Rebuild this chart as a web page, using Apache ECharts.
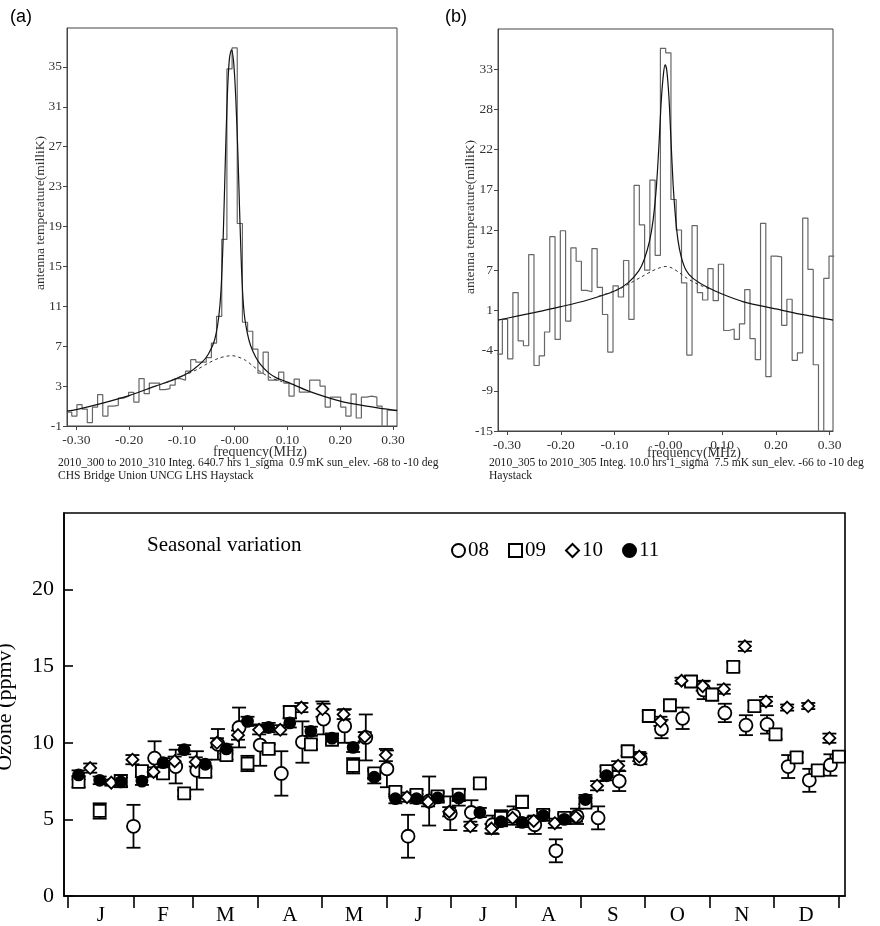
<!DOCTYPE html>
<html><head><meta charset="utf-8">
<script src="https://cdn.jsdelivr.net/npm/echarts@6/dist/echarts.min.js"></script>
<style>html,body{margin:0;padding:0;background:#fff}#c{width:880px;height:926px}</style>
</head><body><div id="c"></div>
<script>
// ---------- spectra (a) and (b): channel centre frequencies (MHz) ----------
const binFreq = [-0.3136,-0.3038,-0.294,-0.2842,-0.2744,-0.2646,-0.2548,-0.245,-0.2352,-0.2254,-0.2156,-0.2058,-0.196,-0.1862,-0.1764,-0.1666,-0.1568,-0.147,-0.1372,-0.1274,-0.1176,-0.1078,-0.098,-0.0882,-0.0784,-0.0686,-0.0588,-0.049,-0.0392,-0.0294,-0.0196,-0.0098,
  0,0.0098,0.0196,0.0294,0.0392,0.049,0.0588,0.0686,0.0784,0.0882,0.098,0.1078,0.1176,0.1274,0.1372,0.147,0.1568,0.1666,0.1764,0.1862,0.196,0.2058,0.2156,0.2254,0.2352,0.245,0.2548,0.2646,0.2744,0.2842,0.294,0.3038];
// antenna temperature (milliK) per channel
const histA = [0.4,0.0,1.14,0.7,-0.66,0.9,2.14,0.0,1.0,1.07,1.8,1.98,2.38,1.4,3.75,2.24,3.3,3.3,2.64,2.75,3.1,3.75,3.6,4.5,5.65,5.4,5.4,5.85,7.3,10.0,17.7,34.8,
  36.9,19.3,9.4,8.5,6.7,4.3,6.4,3.6,3.6,4.4,3.3,2.0,3.7,2.4,2.4,3.6,3.6,3.0,0.9,1.9,1.9,0.9,0.0,2.2,-0.2,1.9,2.0,1.9,1.0,-1.5,0.6,0.6];
const histB = [-4.67,0.0,-5.3,3.6,-2.9,-3.55,8.7,-6.2,-4.9,-1.7,11.1,-2.7,11.9,-0.24,9.6,7.8,3.9,3.7,9.5,4.3,0.65,-4.4,4.5,3.0,7.9,0.0,18.0,12.7,6.6,18.7,8.6,36.4,
  35.8,16.1,12.0,4.9,-4.8,12.6,3.6,2.6,6.8,2.5,7.4,-1.5,-1.3,-2.7,-0.6,4.0,-2.6,-5.4,12.9,-7.7,8.5,8.4,-0.8,2.7,-5.5,-4.5,13.6,6.7,-6.1,-17,5.5,8.5];
// fitted curves
const fitAx = [-0.3177,-0.30,-0.25,-0.20,-0.15,-0.12,-0.10,-0.08,-0.06,-0.05,-0.04,-0.035,-0.03,-0.026,-0.022,-0.018,-0.014,-0.010,-0.006,-0.002,0.002,0.006,0.010,0.014,0.018,0.024,0.03,0.04,0.05,0.065,0.08,0.10,0.14,0.20,0.25,0.30,0.3076];
const fitAy = [0.5,0.65,1.3,2.05,3.0,3.55,4.0,4.6,5.5,6.2,7.3,8.3,10.0,12.5,17.5,25,32,35.8,36.7,35.5,32,26.5,19.5,13.5,10.3,8.3,7.1,5.9,5.1,4.3,3.8,3.4,2.5,1.5,1.0,0.6,0.55];
const baseAx = [-0.13,-0.11,-0.09,-0.07,-0.05,-0.03,-0.015,-0.005,0.005,0.02,0.035,0.05,0.07,0.09,0.10];
const baseAy = [3.4,3.8,4.2,4.7,5.3,5.8,6.0,6.05,5.95,5.6,5.0,4.4,3.8,3.45,3.35];
const fitBx = [-0.3168,-0.30,-0.25,-0.20,-0.15,-0.10,-0.075,-0.055,-0.045,-0.035,-0.028,-0.022,-0.017,-0.013,-0.009,-0.006,-0.003,0.001,0.005,0.009,0.013,0.018,0.024,0.033,0.046,0.07,0.10,0.14,0.20,0.245,0.30,0.3063];
const fitBy = [-0.1,0.15,0.9,1.7,2.6,3.8,4.9,6.5,8.0,10.5,13.5,18,24,29.5,33,34.2,33.5,30,24,18,14,10.6,8.4,6.6,5.5,4.4,3.4,2.35,1.4,0.7,0.0,-0.1];
const baseBx = [-0.13,-0.11,-0.09,-0.07,-0.05,-0.03,-0.015,-0.006,0.005,0.02,0.035,0.05,0.065,0.08];
const baseBy = [3.1,3.55,4.1,4.9,5.7,6.5,6.95,7.1,6.95,6.3,5.5,4.9,4.4,4.0];
// tick values / labels
const freqTicks = [-0.3,-0.2,-0.1,0,0.1,0.2,0.3];
const freqTickLabels = ['-0.30','-0.20','-0.10','-0.00','0.10','0.20','0.30'];
const tempTicksA = [-1,3,7,11,15,19,23,27,31,35];
const tempLabelsA = ['-1','3','7','11','15','19','23','27','31','35'];
const tempTicksB = [-15,-9.6,-4.2,1.2,6.6,12,17.4,22.8,28.2,33.6];
const tempLabelsB = ['-15','-9','-4','1','7','12','17','22','28','33'];

// ---------- seasonal ozone (ppmv), day of year ----------
const monthBounds = [0,31,59,90,120,151,181,212,243,273,304,334,365];
const monthMids = [15.5,45,74.5,105,135.5,166,196.5,227.5,258,288.5,319,349.5];
const monthLabels = ['J','F','M','A','M','J','J','A','S','O','N','D'];
const ozoneTicks = [0,5,10,15,20];

const day08 = [31,41,51,61,71,81,91,101,111,121,131,141,151,161,171,181,191,201,211,221,231,241,251,261,271,281,291,301,311,321,331,341,351,361];
const o3_08 = [4.55,9.0,8.45,8.2,9.9,11.0,9.85,8.0,10.05,11.55,11.1,10.35,8.3,3.9,6.2,5.4,5.45,4.65,5.25,4.65,2.95,5.2,5.1,7.5,8.95,10.9,11.6,13.45,11.95,11.15,11.2,8.45,7.55,8.55];
const err08 = [1.4,1.1,1.1,1.25,1.0,1.3,1.35,1.45,1.35,1.0,1.1,1.5,1.2,1.4,1.6,1.1,0.8,0.6,0.6,0.6,0.75,0.5,0.75,0.65,0.35,0.6,0.7,0.6,0.6,0.65,0.6,0.75,0.75,0.7];

const day09 = [5,15,25,35,45,55,65,75,85,95,105,115,125,135,145,155,165,175,185,195,205,215,225,235,245,255,265,275,285,295,305,315,325,335,345,355,365];
const o3_09 = [7.45,5.55,7.5,8.15,8.0,6.7,8.1,9.2,8.65,9.6,12.0,9.9,10.2,8.5,8.0,6.8,6.6,6.5,6.6,7.35,5.1,6.15,5.3,5.1,6.1,8.15,9.45,11.75,12.45,14.0,13.15,14.95,12.4,10.55,9.05,8.2,9.1];
const err09 = [0.35,0.5,0.4,0.3,0.3,0.2,0.3,0.3,0.5,0.3,0.4,0.3,0.3,0.5,0.3,0.3,0.3,0.3,0.4,0.3,0.5,0.4,0.3,0.3,0.3,0.3,0.3,0.3,0.3,0.3,0.4,0.3,0.3,0.3,0.3,0.3,0.3];

const day10 = [10.5,20.5,30.5,40.5,50.5,60.5,70.5,80.5,90.5,100.5,110.5,120.5,130.5,140.5,150.5,160.5,170.5,180.5,190.5,200.5,210.5,220.5,230.5,240.5,250.5,260.5,270.5,280.5,290.5,300.5,310.5,320.5,330.5,340.5,350.5,360.5];
const o3_10 = [8.35,7.4,8.9,8.1,8.8,8.75,10.0,10.5,10.85,10.85,12.3,12.2,11.85,10.4,9.2,6.45,6.15,5.5,4.55,4.4,5.1,4.9,4.75,5.15,7.2,8.5,9.1,11.4,14.05,13.7,13.5,16.3,12.7,12.3,12.4,10.3];
const err10 = [0.3,0.2,0.3,0.3,0.3,0.3,0.3,0.3,0.3,0.3,0.3,0.5,0.3,0.3,0.4,0.3,0.3,0.3,0.3,0.3,0.3,0.3,0.3,0.3,0.3,0.3,0.3,0.3,0.2,0.3,0.3,0.3,0.3,0.2,0.2,0.3];

const day11 = [5,15,25,35,45,55,65,75,85,95,105,115,125,135,145,155,165,175,185,195,205,215,225,235,245,255];
const o3_11 = [7.9,7.55,7.45,7.5,8.7,9.55,8.6,9.6,11.4,11.0,11.3,10.75,10.3,9.7,7.75,6.35,6.35,6.4,6.4,5.45,4.85,4.8,5.25,5.0,6.3,7.85];
const err11 = [0.3,0.25,0.3,0.25,0.3,0.3,0.3,0.3,0.3,0.3,0.3,0.3,0.3,0.3,0.4,0.3,0.3,0.3,0.5,0.3,0.3,0.3,0.3,0.3,0.3,0.3];

// ---------- helpers ----------
const serif = '"Liberation Serif", "Times New Roman", serif';
const HALF = 0.0049;
function histData(vals){
  const d = binFreq.map((f,i)=>[f-HALF, vals[i]]);
  d.push([binFreq[binFreq.length-1]+HALF, vals[vals.length-1]]);
  return d;
}
function pairs(xs, ys){ return xs.map((x,i)=>[x, ys[i]]); }
function nearest(v, ticks, labels){
  let bi = 0;
  for (let i=1;i<ticks.length;i++) if (Math.abs(ticks[i]-v) < Math.abs(ticks[bi]-v)) bi = i;
  return labels[bi];
}
function errData(days, vals, errs){ return days.map((d,i)=>[d, vals[i]-errs[i], vals[i]+errs[i]]); }
function errRender(params, api){
  const x = api.value(0);
  const p1 = api.coord([x, api.value(2)]);
  const p2 = api.coord([x, api.value(1)]);
  const hw = 7;
  const st = {stroke:'#000', lineWidth:1.8};
  return {type:'group', children:[
    {type:'line', shape:{x1:p1[0],y1:p1[1],x2:p2[0],y2:p2[1]}, style:st},
    {type:'line', shape:{x1:p1[0]-hw,y1:p1[1],x2:p1[0]+hw,y2:p1[1]}, style:st},
    {type:'line', shape:{x1:p2[0]-hw,y1:p2[1],x2:p2[0]+hw,y2:p2[1]}, style:st}
  ]};
}

const specLabel = {fontFamily:serif, fontSize:13.5, color:'#333'};
function specX(grid, min, max){
  return {gridIndex:grid, type:'value', min:min, max:max,
    axisLine:{show:true, onZero:false, lineStyle:{color:'#444', width:1}},
    axisTick:{show:true, customValues:freqTicks, length:4, lineStyle:{color:'#444'}},
    axisLabel:Object.assign({customValues:freqTicks, margin:7, formatter:v=>nearest(v,freqTicks,freqTickLabels)}, specLabel),
    splitLine:{show:false}};
}
function specY(grid, min, max, ticks, labels){
  return {gridIndex:grid, type:'value', min:min, max:max,
    axisLine:{show:true, onZero:false, lineStyle:{color:'#444', width:1}},
    axisTick:{show:true, customValues:ticks, length:4, lineStyle:{color:'#444'}},
    axisLabel:Object.assign({customValues:ticks, margin:5, formatter:v=>nearest(v,ticks,labels)}, specLabel),
    splitLine:{show:false}};
}
function lineS(xi, data, color, width, opts){
  return Object.assign({type:'line', xAxisIndex:xi, yAxisIndex:xi, data:data, showSymbol:false, silent:true,
    lineStyle:{color:color, width:width}}, opts||{});
}
function scatterS(name, days, vals, symbol, size, fill){
  return {type:'scatter', name:name, xAxisIndex:2, yAxisIndex:2, data:pairs(days, vals),
    symbol:symbol, symbolSize:size, z:5,
    itemStyle:{color:fill, borderColor:'#000', borderWidth:1.8, opacity:1}};
}
function errS(days, vals, errs){
  return {type:'custom', xAxisIndex:2, yAxisIndex:2, data:errData(days, vals, errs), renderItem:errRender,
    encode:{x:0, y:[1,2]}, z:3, silent:true};
}

const option = {
  animation:false,
  backgroundColor:'#fff',
  grid:[
    {left:67, top:28, width:330, height:398, show:true, borderColor:'#444', borderWidth:1},
    {left:498, top:29, width:335, height:402, show:true, borderColor:'#444', borderWidth:1},
    {left:64, top:513, width:781, height:387, show:true, borderColor:'#000', borderWidth:1.6}
  ],
  xAxis:[
    specX(0, -0.3177, 0.3076),
    specX(1, -0.3168, 0.3063),
    {gridIndex:2, type:'value', min:-1.9, max:367.9,
      axisLine:{show:true, onZero:false, lineStyle:{color:'#000', width:1.6}},
      axisTick:{show:true, customValues:monthBounds, length:12, inside:false, lineStyle:{color:'#000', width:1.6}},
      axisLabel:{customValues:monthMids, margin:9, fontFamily:serif, fontSize:21, color:'#000',
        formatter:v=>nearest(v, monthMids, monthLabels)},
      splitLine:{show:false}}
  ],
  yAxis:[
    specY(0, -1, 38.9, tempTicksA, tempLabelsA),
    specY(1, -15, 39.0, tempTicksB, tempLabelsB),
    {gridIndex:2, type:'value', min:0, max:25,
      axisLine:{show:true, onZero:false, lineStyle:{color:'#000', width:1.6}},
      axisTick:{show:true, customValues:ozoneTicks, length:9, inside:true, lineStyle:{color:'#000', width:1.6}},
      axisLabel:{customValues:ozoneTicks, margin:10, fontFamily:serif, fontSize:22, color:'#000'},
      splitLine:{show:false}}
  ],
  legend:{
    data:['08','09','10','11'], left:446, top:535, orient:'horizontal',
    itemWidth:13, itemHeight:13, itemGap:19, selectedMode:false,
    textStyle:{fontFamily:serif, fontSize:21, color:'#000', padding:[0,0,0,-2]}
  },
  graphic:[
    {type:'text', x:10, y:8, style:{text:'(a)', font:'18px "Liberation Sans", Arial, sans-serif', fill:'#000'}},
    {type:'text', x:445, y:8, style:{text:'(b)', font:'18px "Liberation Sans", Arial, sans-serif', fill:'#000'}},
    {type:'text', x:40, y:213, rotation:Math.PI/2, style:{text:'antenna temperature(milliK)', font:'13.5px '+serif, fill:'#333', align:'center', verticalAlign:'middle'}},
    {type:'text', x:470, y:217, rotation:Math.PI/2, style:{text:'antenna temperature(milliK)', font:'13.5px '+serif, fill:'#333', align:'center', verticalAlign:'middle'}},
    {type:'text', x:260, y:452, style:{text:'frequency(MHz)', font:'14px '+serif, fill:'#333', align:'center', verticalAlign:'middle'}},
    {type:'text', x:694, y:453, style:{text:'frequency(MHz)', font:'14px '+serif, fill:'#333', align:'center', verticalAlign:'middle'}},
    {type:'text', x:58, y:463, style:{text:'2010_300 to 2010_310 Integ. 640.7 hrs 1_sigma  0.9 mK sun_elev. -68 to -10 deg', font:'11.6px '+serif, fill:'#222', verticalAlign:'middle'}},
    {type:'text', x:58, y:476, style:{text:'CHS Bridge Union UNCG LHS Haystack', font:'11.6px '+serif, fill:'#222', verticalAlign:'middle'}},
    {type:'text', x:489, y:463, style:{text:'2010_305 to 2010_305 Integ. 10.0 hrs 1_sigma  7.5 mK sun_elev. -66 to -10 deg', font:'11.6px '+serif, fill:'#222', verticalAlign:'middle'}},
    {type:'text', x:489, y:476, style:{text:'Haystack', font:'11.6px '+serif, fill:'#222', verticalAlign:'middle'}},
    {type:'text', x:147, y:545, style:{text:'Seasonal variation', font:'21px '+serif, fill:'#000', verticalAlign:'middle'}},
    {type:'text', x:16, y:707, rotation:Math.PI/2, style:{text:'Ozone (ppmv)', font:'22px '+serif, fill:'#000', align:'center', verticalAlign:'bottom'}}
  ],
  series:[
    lineS(0, histData(histA), '#666', 1.2, {step:'end'}),
    lineS(0, pairs(fitAx, fitAy), '#111', 1.2, {smooth:0.3}),
    lineS(0, pairs(baseAx, baseAy), '#333', 1, {smooth:0.3, lineStyle:{color:'#333', width:1, type:[3,3]}}),
    lineS(1, histData(histB), '#666', 1.2, {step:'end'}),
    lineS(1, pairs(fitBx, fitBy), '#111', 1.2, {smooth:0.3}),
    lineS(1, pairs(baseBx, baseBy), '#333', 1, {smooth:0.3, lineStyle:{color:'#333', width:1, type:[3,3]}}),
    errS(day08, o3_08, err08),
    errS(day09, o3_09, err09),
    errS(day10, o3_10, err10),
    errS(day11, o3_11, err11),
    scatterS('08', day08, o3_08, 'circle', 13, '#fff'),
    scatterS('09', day09, o3_09, 'rect', 12, '#fff'),
    scatterS('10', day10, o3_10, 'diamond', 12, '#fff'),
    scatterS('11', day11, o3_11, 'circle', 11, '#000')
  ]
};
const chart = echarts.init(document.getElementById('c'), null, {renderer:'canvas', width:880, height:926});
chart.setOption(option);
</script>
</body></html>
